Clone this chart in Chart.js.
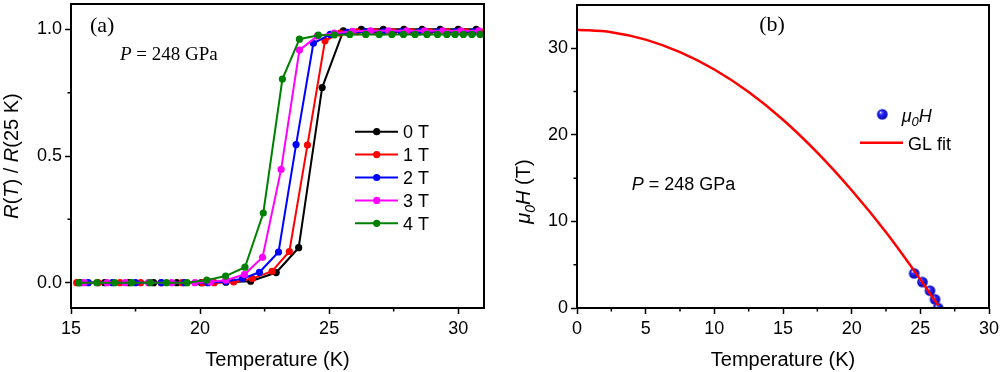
<!DOCTYPE html>
<html>
<head>
<meta charset="utf-8">
<script src="https://cdn.jsdelivr.net/npm/chart.js@4.4.1/dist/chart.umd.min.js"></script>
<style>
  html, body { margin: 0; padding: 0; background: #fff; }
  #wrap { position: relative; width: 1000px; height: 372px; }
  .box { position: absolute; top: 0; width: 500px; height: 372px; }
</style>
</head>
<body>
<div id="wrap">
  <div class="box" style="left:0"><canvas id="chart-a" width="500" height="372"></canvas></div>
  <div class="box" style="left:500px"><canvas id="chart-b" width="500" height="372"></canvas></div>
</div>
<script>
// Panel (a): R(T)/R(25 K) vs temperature at several fields
const fieldLabels = ["0 T", "1 T", "2 T", "3 T", "4 T"];
const fieldColors = ["#000000", "#ff0000", "#0000ff", "#ff00ff", "#008000"];

const temp0T = [15.35, 16.3, 17.25, 18.2, 19.1, 20.05, 21.0, 21.96, 22.95, 23.82, 24.73, 25.55, 26.25, 27.1, 27.9, 28.6, 29.3, 30.0, 30.7];
const res0T  = [0, 0, 0, 0, 0, 0, 0.002, 0.006, 0.04, 0.138, 0.77, 0.994, 1.0, 1.0, 1.0, 1.0, 1.0, 1.0, 1.0];

const temp1T = [15.22, 16.05, 16.9, 17.7, 18.5, 19.3, 20.1, 20.55, 21.3, 22.02, 22.79, 23.46, 24.16, 24.84, 25.43, 26.1, 26.8, 27.5, 28.2, 28.9, 29.6, 30.3, 31.0];
const res1T  = [0, 0, 0, 0, 0, 0, 0, 0, 0.003, 0.016, 0.045, 0.123, 0.543, 0.955, 0.985, 0.99, 0.99, 0.99, 0.99, 0.99, 0.99, 0.99, 0.99];

const temp2T = [15.67, 16.6, 17.5, 18.5, 19.4, 20.3, 21.0, 21.65, 22.3, 23.04, 23.72, 24.39, 25.04, 25.7, 26.4, 27.1, 27.8, 28.5, 29.2, 29.9, 30.6];
const res2T  = [0, 0, 0, 0, 0, 0, 0.005, 0.016, 0.041, 0.121, 0.545, 0.945, 0.98, 0.988, 0.99, 0.99, 0.99, 0.99, 0.99, 0.99, 0.99];

const temp3T = [15.5, 16.4, 17.1, 18.0, 18.9, 19.8, 20.4, 21.0, 21.72, 22.42, 23.14, 23.85, 24.55, 25.2, 25.9, 26.6, 27.3, 28.0, 28.7, 29.4, 30.1, 30.8];
const res3T  = [0, 0, 0, 0, 0, 0, 0.003, 0.01, 0.032, 0.10, 0.447, 0.918, 0.974, 0.985, 0.992, 0.994, 0.994, 0.994, 0.994, 0.994, 0.994, 0.994];

const temp4T = [15.3, 16.0, 16.7, 17.35, 18.06, 18.7, 19.5, 20.26, 20.99, 21.74, 22.45, 23.19, 23.85, 24.58, 25.2, 25.8, 26.42, 26.94, 27.43, 27.88, 28.33, 28.79, 29.2, 29.56, 29.88, 30.2, 30.53, 30.85];
const res4T  = [0, 0, 0, 0, 0, 0, 0, 0.01, 0.026, 0.061, 0.275, 0.804, 0.961, 0.977, 0.978, 0.98, 0.98, 0.98, 0.98, 0.98, 0.98, 0.98, 0.98, 0.98, 0.98, 0.98, 0.98, 0.98];

const tempSets = [temp0T, temp1T, temp2T, temp3T, temp4T];
const resSets = [res0T, res1T, res2T, res3T, res4T];

const ticksXA = [15, 20, 25, 30];
const minorXA = [17.5, 22.5, 27.5];
const ticksYA = [0, 0.5, 1.0];
const minorYA = [0.25, 0.75];

// Panel (b): upper critical field and GL fit
const hcTemp = [24.55, 25.15, 25.7, 26.07, 26.3];
const hcField = [4, 3, 2, 1, 0];
const fitTemp = [0, 2.5, 5, 7.5, 10, 12.5, 15, 17.5, 20, 22.5, 24.6, 26.3];
const fitField = [32.15, 31.86, 31.0, 29.55, 27.55, 24.95, 21.75, 17.95, 13.6, 8.75, 4.2, 0.3];

const ticksXB = [0, 5, 10, 15, 20, 25, 30];
const minorXB = [2.5, 7.5, 12.5, 17.5, 22.5, 27.5];
const ticksYB = [0, 10, 20, 30];
const minorYB = [5, 15, 25];

const SANS = "'Liberation Sans', Arial, sans-serif";
const SERIF = "'Liberation Serif', 'Times New Roman', serif";

// shiny sphere used as point style in (b)
function sphere(r) {
  const c = document.createElement("canvas");
  const s = Math.ceil(r * 2 + 2);
  c.width = c.height = s;
  const g = c.getContext("2d");
  const m = s / 2;
  const grad = g.createRadialGradient(m - r * 0.35, m - r * 0.4, r * 0.05, m, m, r);
  grad.addColorStop(0, "#f0f0ff");
  grad.addColorStop(0.3, "#3030ff");
  grad.addColorStop(1, "#0000b0");
  g.fillStyle = grad;
  g.beginPath(); g.arc(m, m, r, 0, Math.PI * 2); g.fill();
  return c;
}
const ball = sphere(5.3);

// draws a run of differently styled text pieces
function rich(ctx, x, y, parts, align) {
  let w = 0;
  parts.forEach((p) => { ctx.font = p.font; w += ctx.measureText(p.t).width; });
  let cx = align === "center" ? x - w / 2 : x;
  ctx.textAlign = "left";
  ctx.textBaseline = "alphabetic";
  parts.forEach((p) => {
    ctx.font = p.font;
    ctx.fillText(p.t, cx, y + (p.dy || 0));
    cx += ctx.measureText(p.t).width;
  });
}

const frame = {
  id: "frame",
  afterDraw(chart, args, o) {
    const { ctx, chartArea: a, scales } = chart;
    ctx.save();
    ctx.strokeStyle = "#000";
    ctx.lineWidth = 2;
    ctx.strokeRect(a.left, a.top, a.right - a.left, a.bottom - a.top);
    ctx.lineWidth = 1.5;
    ctx.beginPath();
    o.minorX.forEach((v) => { const x = scales.x.getPixelForValue(v); ctx.moveTo(x, a.bottom); ctx.lineTo(x, a.bottom + 3.5); });
    o.minorY.forEach((v) => { const y = scales.y.getPixelForValue(v); ctx.moveTo(a.left, y); ctx.lineTo(a.left - 3.5, y); });
    ctx.stroke();
    ctx.fillStyle = "#000";
    // x title
    rich(ctx, (a.left + a.right) / 2, 366, [{ t: "Temperature (K)", font: `20px ${SANS}` }], "center");
    // y title
    ctx.save();
    ctx.translate(o.yTitleX, (a.top + a.bottom) / 2 + o.yTitleShift);
    ctx.rotate(-Math.PI / 2);
    rich(ctx, 0, 0, o.yTitle, "center");
    ctx.restore();
    o.extra(ctx);
    ctx.restore();
  },
};

function fixY(w) { return (s) => { s.width = w; s.paddingTop = 0; s.paddingBottom = 0; }; }
function fixX(h) { return (s) => { s.height = h; s.paddingLeft = 0; s.paddingRight = 0; }; }

function axis(min, max, ticks, fmt, fit, pad) {
  return {
    type: "linear", min, max,
    afterBuildTicks: (s) => { s.ticks = ticks.map((v) => ({ value: v })); },
    afterFit: fit,
    border: { display: true, color: "#000", width: 2 },
    grid: { drawOnChartArea: false, drawTicks: true, tickLength: 6, tickColor: "#000", tickWidth: 1.5 },
    ticks: { color: "#000", font: { family: SANS, size: 18 }, padding: pad, callback: fmt },
  };
}

new Chart(document.getElementById("chart-a"), {
  type: "scatter",
  data: {
    datasets: fieldLabels.map((lab, i) => ({
      label: lab,
      data: tempSets[i].map((t, j) => ({ x: t, y: resSets[i][j] })),
      showLine: true,
      borderColor: fieldColors[i],
      backgroundColor: fieldColors[i],
      borderWidth: 2,
      pointRadius: 3.6,
      pointBorderWidth: 0,
      order: 4 - i,
    })),
  },
  options: {
    responsive: false, animation: false,
    layout: { padding: { left: 0, right: 16, top: 2, bottom: 0 } },
    plugins: {
      legend: { display: false }, tooltip: { enabled: false },
      frame: {
        minorX: minorXA, minorY: minorYA, yTitleX: 17.5, yTitleShift: 0,
        yTitle: [
          { t: "R", font: `italic 20px ${SANS}` }, { t: "(", font: `20px ${SANS}` },
          { t: "T", font: `italic 20px ${SANS}` }, { t: ") / ", font: `20px ${SANS}` },
          { t: "R", font: `italic 20px ${SANS}` }, { t: "(25 K)", font: `20px ${SANS}` },
        ],
        extra(ctx) {
          rich(ctx, 90, 32, [{ t: "(a)", font: `22px ${SERIF}` }]);
          rich(ctx, 120, 60, [{ t: "P", font: `italic 19px ${SERIF}` }, { t: " = 248 GPa", font: `19px ${SERIF}` }]);
          fieldLabels.forEach((lab, i) => {
            const y = 131.7 + i * 22.9;
            ctx.strokeStyle = fieldColors[i]; ctx.fillStyle = fieldColors[i]; ctx.lineWidth = 2;
            ctx.beginPath(); ctx.moveTo(355, y); ctx.lineTo(398, y); ctx.stroke();
            ctx.beginPath(); ctx.arc(376.7, y, 3.6, 0, Math.PI * 2); ctx.fill();
            ctx.fillStyle = "#000";
            rich(ctx, 403, y + 6.5, [{ t: lab, font: `18px ${SANS}` }]);
          });
        },
      },
    },
    scales: {
      x: axis(15, 31, ticksXA, (v) => v, fixX(64), 4),
      y: axis(-0.1, 1.1, ticksYA, (v) => v.toFixed(1), fixY(71), 3),
    },
  },
  plugins: [frame],
});

new Chart(document.getElementById("chart-b"), {
  type: "scatter",
  data: {
    datasets: [
      {
        label: "GL fit",
        data: fitTemp.map((t, j) => ({ x: t, y: fitField[j] })),
        showLine: true, borderColor: "#ff0000", borderWidth: 2.5,
        pointRadius: 0, cubicInterpolationMode: "monotone", order: 0,
      },
      {
        label: "μ0H",
        data: hcTemp.map((t, j) => ({ x: t, y: hcField[j] })),
        showLine: false, pointStyle: ball, order: 1,
      },
    ],
  },
  options: {
    responsive: false, animation: false,
    layout: { padding: { left: 0, right: 11, top: 2, bottom: 0 } },
    plugins: {
      legend: { display: false }, tooltip: { enabled: false },
      frame: {
        minorX: minorXB, minorY: minorYB, yTitleX: 30, yTitleShift: 35,
        yTitle: [
          { t: "μ", font: `italic 20px ${SANS}` }, { t: "0", font: `italic 14px ${SANS}`, dy: 5 },
          { t: "H", font: `italic 20px ${SANS}` }, { t: " (T)", font: `20px ${SANS}` },
        ],
        extra(ctx) {
          rich(ctx, 272, 31, [{ t: "(b)", font: `22px ${SERIF}` }], "center");
          rich(ctx, 131.7, 190, [{ t: "P", font: `italic 18px ${SANS}` }, { t: " = 248 GPa", font: `18px ${SANS}` }]);
          ctx.drawImage(ball, 382.3 - ball.width / 2, 114.3 - ball.height / 2);
          rich(ctx, 401.7, 121.7, [
            { t: "μ", font: `italic 18px ${SANS}` }, { t: "0", font: `italic 13px ${SANS}`, dy: 4 },
            { t: "H", font: `italic 18px ${SANS}` },
          ]);
          ctx.strokeStyle = "#ff0000"; ctx.lineWidth = 2.5;
          ctx.beginPath(); ctx.moveTo(360, 142.7); ctx.lineTo(403, 142.7); ctx.stroke();
          rich(ctx, 408, 150, [{ t: "GL fit", font: `18px ${SANS}` }]);
        },
      },
    },
    scales: {
      x: axis(0, 30, ticksXB, (v) => v, fixX(64), 4),
      y: axis(0, 35, ticksYB, (v) => v, fixY(77), 3),
    },
  },
  plugins: [frame],
});
</script>
</body>
</html>
